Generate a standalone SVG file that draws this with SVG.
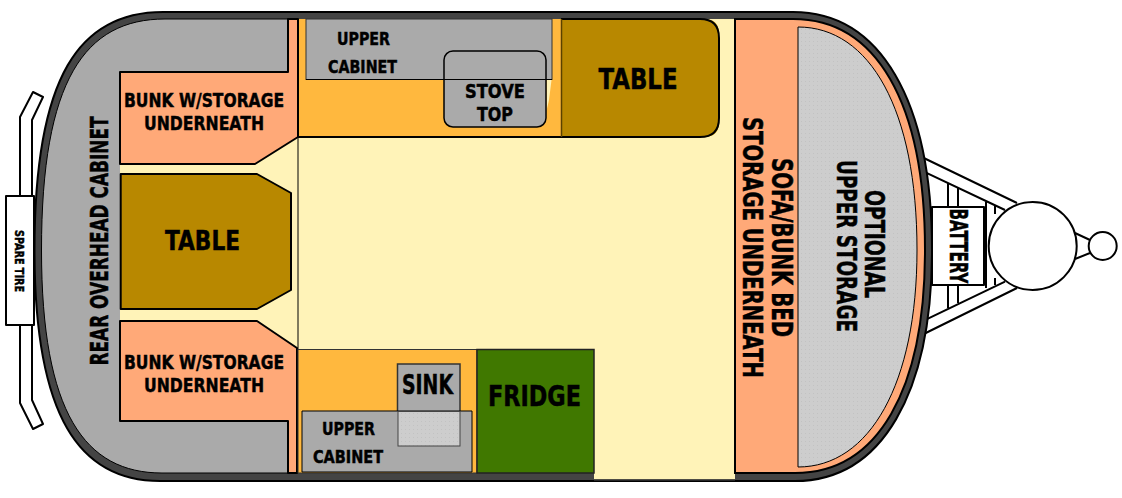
<svg xmlns="http://www.w3.org/2000/svg" width="1122" height="498" viewBox="0 0 1122 498">
<style>
.k{stroke:#000;stroke-width:2;stroke-linejoin:round}
.t{stroke:#000;stroke-width:1;stroke-linejoin:round}
.w{fill:#fff}
.gr{fill:#aaaaaa}
.pe{fill:#ffa978}
.or{fill:#ffb83e}
.br{fill:#b88800}
.cr{fill:#fff3b8}
text{font-family:"DejaVu Sans","Noto Sans",sans-serif;font-weight:700;fill:#000;stroke:#000;stroke-width:0.5;text-anchor:middle}
</style>
<defs>
<pattern id="dots" width="4" height="4" patternUnits="userSpaceOnUse">
<rect width="4" height="4" fill="#cdcdcd"/><rect x="1" y="1" width="1" height="1" fill="#c2c2c2"/>
</pattern>
</defs>
<g id="spare-tire">
<path class="k w" d="M20 196V117L33 92L43 97L32 120V196M20 325V403L33 429L43 424L32 400V325"/>
<rect class="k w" x="6" y="196" width="28" height="129"/>
<text transform="translate(15,261) rotate(90)" font-size="13" textLength="62" lengthAdjust="spacingAndGlyphs">SPARE TIRE</text>
</g>
<g id="hitch">
<path class="k" fill="none" d="M921.700 157L1017 203M921.700 170.700L1005 210M921.700 335L1017 288M921.700 321.700L1005 281.700M948 183V207M958 188V207M948 285V308M958 285V303M986 202V288M995 206V214M995 278V285M1075 233L1090 240M1075 259L1090 253"/>
<rect class="k w" x="932" y="207" width="52" height="78"/>
<rect x="983" y="207" width="3" height="78"/>
<circle class="k w" cx="1032.700" cy="246" r="44"/>
<circle class="k w" cx="1102.700" cy="246" r="14"/>
<text transform="translate(950,246) rotate(90)" font-size="24" textLength="75" lengthAdjust="spacingAndGlyphs">BATTERY</text>
</g>
<g id="hull">
<path class="k" fill="#444444" d="M163 12H793C880 12 932 100 932 250C932 393 882 481 795 481H160C80 481 34.500 418 34.500 250C34.500 75 80 12 163 12Z"/>
</g>
<g id="rear-cabinet">
<path class="t gr" d="M298 19H165C85 19 41.500 80 41.500 250C41.500 413 85 473 162 473H298Z"/>
<text transform="translate(108,241) rotate(-90)" font-size="24" textLength="249" lengthAdjust="spacingAndGlyphs">REAR OVERHEAD CABINET</text>
</g>
<g id="floor">
<path class="cr" d="M120 164H255L298 137V19H735V479.500H594V349H298L257 321H120Z"/>
<path d="M594 480H735" stroke="#333" stroke-width="1.500"/>
</g>
<g id="galley-top">
<rect class="or" x="298" y="19" width="264" height="118"/>
<path class="cr" d="M546.700 80H551.500L549 100L546.700 110Z"/>
<path d="M298 137H561" class="k"/>
<path d="M298 137V349" class="t"/>
</g>
<g id="table-front">
<path d="M561 19H704Q719 19 719 34V122Q719 137 704 137H561Z" class="br"/>
<path d="M561 137H700Q719 137 719 118V38Q719 19 700 19H561" fill="none" class="k"/>
<path d="M561.500 19V137" stroke="#5a4200" stroke-width="1.500"/>
<text x="638" y="89" font-size="29" textLength="79" lengthAdjust="spacingAndGlyphs">TABLE</text>
</g>
<g id="upper-cabinet-top">
<rect class="gr" x="306" y="19" width="246" height="60.500" stroke="#333" stroke-width="1"/>
<text x="363.500" y="45" font-size="18" textLength="53" lengthAdjust="spacingAndGlyphs">UPPER</text>
<text x="362.500" y="73" font-size="18" textLength="69" lengthAdjust="spacingAndGlyphs">CABINET</text>
</g>
<g id="stove-top">
<rect x="444" y="51" width="102" height="76" rx="9" fill="#aaaaaa" stroke="#000" stroke-width="1.500"/>
<path d="M306 79.500H552" stroke="#000" stroke-width="1"/>
<text x="495" y="98" font-size="20" textLength="60" lengthAdjust="spacingAndGlyphs">STOVE</text>
<text x="495" y="121" font-size="20" textLength="36" lengthAdjust="spacingAndGlyphs">TOP</text>
</g>
<g id="bunk-top">
<path class="k pe" d="M120 72H288V19H298V137L255 164H120Z"/>
<text x="204" y="107" font-size="20" textLength="160" lengthAdjust="spacingAndGlyphs">BUNK W/STORAGE</text>
<text x="204" y="130" font-size="20" textLength="120" lengthAdjust="spacingAndGlyphs">UNDERNEATH</text>
</g>
<g id="table-rear">
<path class="k br" d="M120.700 174H257L291 193V290L257 309H120.700Z"/>
<text x="202.500" y="250" font-size="27" textLength="75" lengthAdjust="spacingAndGlyphs">TABLE</text>
</g>
<g id="bunk-bottom">
<path class="k pe" d="M120 321H257L297 348V473H288V421H120Z"/>
<text x="204" y="369" font-size="20" textLength="160" lengthAdjust="spacingAndGlyphs">BUNK W/STORAGE</text>
<text x="204" y="392" font-size="20" textLength="120" lengthAdjust="spacingAndGlyphs">UNDERNEATH</text>
</g>
<g id="galley-bottom">
<rect class="or" x="298" y="349.500" width="179" height="123.500" stroke="#333" stroke-width="1"/>
</g>
<g id="sink">
<rect class="gr" x="397.500" y="364" width="62.500" height="82" stroke="#333" stroke-width="1.500"/>
<text x="427.500" y="394" font-size="26" textLength="51" lengthAdjust="spacingAndGlyphs">SINK</text>
</g>
<g id="upper-cabinet-bottom">
<path class="gr" stroke="#000" stroke-width="1" d="M302 411H472V472H302Z"/>
<rect x="398" y="411.500" width="62" height="34.500" fill="url(#dots)" stroke="#444" stroke-width="1"/>
<text x="348.500" y="435" font-size="18" textLength="53" lengthAdjust="spacingAndGlyphs">UPPER</text>
<text x="348" y="463" font-size="18" textLength="70" lengthAdjust="spacingAndGlyphs">CABINET</text>
</g>
<g id="fridge">
<rect x="477" y="349.500" width="117" height="123.500" fill="#407800" stroke="#222" stroke-width="1.500"/>
<text x="534.500" y="406" font-size="28" textLength="93" lengthAdjust="spacingAndGlyphs">FRIDGE</text>
</g>
<g id="sofa">
<path class="pe" stroke="#000" stroke-width="2" d="M735 19H793C876 19 925 102 925 250C925 390 878 473 795 473H735Z"/>
<text transform="translate(743,247.500) rotate(90)" font-size="27" textLength="261" lengthAdjust="spacingAndGlyphs">STORAGE UNDERNEATH</text>
<text transform="translate(772,247.500) rotate(90)" font-size="28" textLength="179" lengthAdjust="spacingAndGlyphs">SOFA/BUNK BED</text>
</g>
<g id="optional-storage">
<path fill="url(#dots)" stroke="#000" stroke-width="1" d="M798 27C870 27 917 110 917 250C917 383 870 467 798 467Z"/>
<text transform="translate(837,246) rotate(90)" font-size="27" textLength="172" lengthAdjust="spacingAndGlyphs">UPPER STORAGE</text>
<text transform="translate(865,244) rotate(90)" font-size="27" textLength="108" lengthAdjust="spacingAndGlyphs">OPTIONAL</text>
</g>
</svg>
